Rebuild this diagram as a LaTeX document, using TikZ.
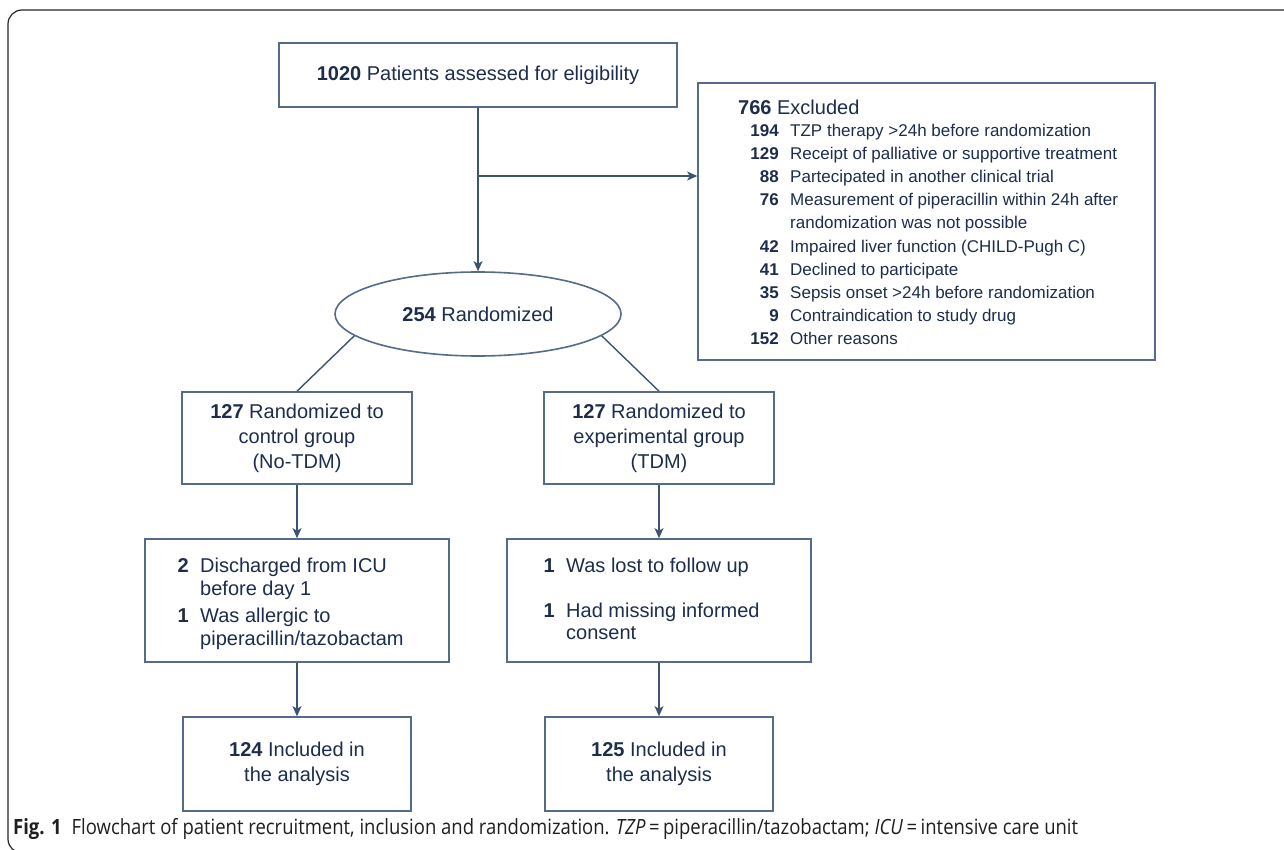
\documentclass[tikz,border=0pt]{standalone}
\usepackage{fontspec}
\setmainfont{Liberation Sans}
\newfontfamily\capfont[FakeStretch=0.88]{Open Sans}
\usetikzlibrary{arrows.meta,shapes.geometric}
\definecolor{ink}{HTML}{1D2D4B}
\definecolor{edgec}{HTML}{566A89}
\definecolor{wirec}{HTML}{3E5272}
\begin{document}
\begin{tikzpicture}[x=1pt,y=-1pt,
  box/.style={draw=edgec, line width=1.6pt, fill=white, text=ink, align=center,
    font=\fontsize{20}{25}\selectfont, inner sep=0pt},
  wire/.style={draw=wirec, line width=1.4pt},
  arr/.style={wire, -{Stealth[length=10pt,width=9pt,inset=2.5pt]}},
  lbl/.style={text=ink, inner sep=0pt, font=\fontsize{20}{25}\selectfont, text height=15pt, text depth=1pt},
  exl/.style={text=ink, inner sep=0pt, font=\fontsize{17}{20}\selectfont, text height=13pt, text depth=1pt},
]
\useasboundingbox (0,0) rectangle (1284,850);
\clip (0,0) rectangle (1284,850);
\fill[white] (0,0) rectangle (1284,850);
% frame
\draw[black!85, line width=1.2pt, rounded corners=14pt] (1300,10) -- (8,10) -- (8,853) -- (1300,853);

% top box
\node[box, minimum width=398, minimum height=64] (top) at (478,75) {\textbf{1020} Patients assessed for eligibility};
% excluded box
\node[draw=edgec, line width=1.6pt, minimum width=457, minimum height=277, inner sep=0pt] (excl) at (926.5,221.5) {};
\node[lbl, anchor=west] (exh) at (738,108) {\textbf{766} Excluded};
\node[exl, anchor=east] (n1) at (779,131) {\textbf{194}};
\node[exl, anchor=west] (t1) at (790,131) {TZP therapy >24h before randomization};
\node[exl, anchor=east] (n2) at (779,154) {\textbf{129}};
\node[exl, anchor=west] (t2) at (790,154) {Receipt of palliative or supportive treatment};
\node[exl, anchor=east] (n3) at (779,177) {\textbf{88}};
\node[exl, anchor=west] (t3) at (790,177) {Partecipated in another clinical trial};
\node[exl, anchor=east] (n4) at (779,200) {\textbf{76}};
\node[exl, anchor=west] (t4) at (790,200) {Measurement of piperacillin within 24h after};
\node[exl, anchor=west] (t4b) at (790,223) {randomization was not possible};
\node[exl, anchor=east] (n5) at (779,246) {\textbf{42}};
\node[exl, anchor=west] (t5) at (790,246) {Impaired liver function (CHILD-Pugh C)};
\node[exl, anchor=east] (n6) at (779,269) {\textbf{41}};
\node[exl, anchor=west] (t6) at (790,269) {Declined to participate};
\node[exl, anchor=east] (n7) at (779,292) {\textbf{35}};
\node[exl, anchor=west] (t7) at (790,292) {Sepsis onset >24h before randomization};
\node[exl, anchor=east] (n8) at (779,315) {\textbf{9}};
\node[exl, anchor=west] (t8) at (790,315) {Contraindication to study drug};
\node[exl, anchor=east] (n9) at (779,338) {\textbf{152}};
\node[exl, anchor=west] (t9) at (790,338) {Other reasons};

% randomized
\node[draw=edgec, line width=1.6pt, ellipse, minimum width=286, minimum height=84, inner sep=0pt,
  text=ink, font=\fontsize{20}{25}\selectfont] (ell) at (478,314) {\textbf{254} Randomized};

% group boxes
\node[box, minimum width=230, minimum height=92] (c1) at (297,438) {\textbf{127} Randomized to\\control group\\(No-TDM)};
\node[box, minimum width=230, minimum height=92] (c2) at (659,438) {\textbf{127} Randomized to\\experimental group\\(TDM)};

% dropout boxes
\node[box, minimum width=304, minimum height=123] (d1) at (297,600.5) {};
\node[box, minimum width=304, minimum height=123] (d2) at (659,600.5) {};
\node[lbl, anchor=east] (d1n1) at (189,565) {\textbf{2}};
\node[lbl, anchor=west] (d1t1) at (200,565) {Discharged from ICU};
\node[lbl, anchor=west] (d1t1b) at (200,588) {before day 1};
\node[lbl, anchor=east] (d1n2) at (189,615) {\textbf{1}};
\node[lbl, anchor=west] (d1t2) at (200,615) {Was allergic to};
\node[lbl, anchor=west] (d1t2b) at (200,638) {piperacillin/tazobactam};
\node[lbl, anchor=east] (d2n1) at (555,565) {\textbf{1}};
\node[lbl, anchor=west] (d2t1) at (566,565) {Was lost to follow up};
\node[lbl, anchor=east] (d2n2) at (555,610) {\textbf{1}};
\node[lbl, anchor=west] (d2t2) at (566,610) {Had missing informed};
\node[lbl, anchor=west] (d2t2b) at (566,632) {consent};

% final boxes
\node[box, minimum width=228, minimum height=94] (f1) at (297,764) {\textbf{124} Included in\\the analysis};
\node[box, minimum width=228, minimum height=94] (f2) at (659,764) {\textbf{125} Included in\\the analysis};

% connectors
\coordinate (brn) at (478,176);
\draw[arr] (top.south) -- (ell.north);
\draw[arr] (brn) -- (brn -| excl.west);
\draw[wire] (ell.190) -- (c1.north);
\draw[wire] (ell.350) -- (c2.north);
\draw[arr] (c1.south) -- (d1.north);
\draw[arr] (c2.south) -- (d2.north);
\draw[arr] (d1.south) -- (f1.north);
\draw[arr] (d2.south) -- (f2.north);

% caption
\node[anchor=west, inner sep=0pt, text=black!88, font=\capfont\fontsize{21}{24}\selectfont] (cap) at (13,829)
  {\textbf{Fig. 1}\hspace{10pt}Flowchart of patient recruitment, inclusion and randomization. \textit{TZP}\,=\,piperacillin/tazobactam; \textit{ICU}\,=\,intensive care unit};
\end{tikzpicture}
\end{document}
